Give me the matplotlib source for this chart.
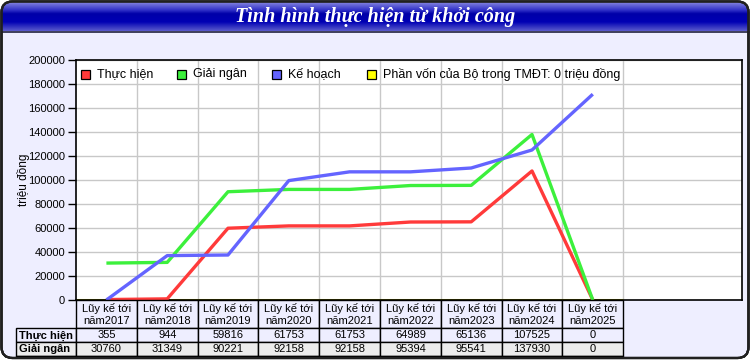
import matplotlib
matplotlib.use("Agg")
import matplotlib.pyplot as plt
import numpy as np
from matplotlib.patches import FancyBboxPatch, Rectangle
from matplotlib.colors import LinearSegmentedColormap

# ---------------- data ----------------
years = ["2017", "2018", "2019", "2020", "2021", "2022", "2023", "2024", "2025"]
categories = ["Lũy kế tới\nnăm" + y for y in years]
thuc_hien = [355, 944, 59816, 61753, 61753, 64989, 65136, 107525, 0]
giai_ngan = [30760, 31349, 90221, 92158, 92158, 95394, 95541, 137930, 0]
ke_hoach = [0, 37000, 37500, 99500, 106800, 106800, 110000, 125000, 171500]
phan_von = 0

series_names = ["Thực hiện", "Giải ngân", "Kế hoạch"]
legend_labels = ["Thực hiện", "Giải ngân", "Kế hoạch",
                 "Phần vốn của Bộ trong TMĐT: 0 triệu đồng"]
title = "Tình hình thực hiện từ khởi công"
ylabel = "triệu đồng"
yticks = list(range(0, 200001, 20000))

# ---------------- style ----------------
SANS = ["Liberation Sans", "DejaVu Sans"]
SERIF = ["Liberation Serif", "DejaVu Serif"]
plt.rcParams['font.family'] = SANS
c_red, c_green, c_blue, c_yellow = "#FF3A3A", "#3CF03C", "#6464FF", "#FFFF00"
line_colors = [c_red, c_green, c_blue]
lav = "#EEEEFF"

W, H = 750, 360
fig = plt.figure(figsize=(W / 100, H / 100), dpi=100)
fig.patch.set_facecolor("white")

# background axes in pixel coordinates
bg = fig.add_axes([0, 0, 1, 1], zorder=0)
bg.set_xlim(0, W)
bg.set_ylim(H, 0)
bg.axis("off")

frame = FancyBboxPatch((1.5, 1.5), W - 3, 356.5,
                       boxstyle="round,pad=0,rounding_size=11",
                       fc=lav, ec="#202020", lw=1.6, zorder=1)
bg.add_patch(frame)

# glossy title bar
stops = [(0.0, "#A0A0EC"), (0.07, "#7878DC"), (0.3, "#3030C8"),
         (0.42, "#0000A8"), (0.7, "#0000B4"), (1.0, "#5A5ACC")]
cmap = LinearSegmentedColormap.from_list("tb", stops)
grad = np.linspace(0, 1, 64).reshape(-1, 1)
im = bg.imshow(grad, cmap=cmap, aspect="auto",
               extent=(1.5, W - 1.5, 31, 1.5), zorder=2, interpolation="bilinear")
im.set_clip_path(frame)
bg.set_xlim(0, W)
bg.set_ylim(H, 0)
bg.plot([1.5, W - 1.5], [31.5, 31.5], color="#202040", lw=1.2, zorder=3)
frame_edge = FancyBboxPatch((1.5, 1.5), W - 3, 356.5,
                            boxstyle="round,pad=0,rounding_size=11",
                            fc="none", ec="#202020", lw=1.6, zorder=4)
bg.add_patch(frame_edge)
bg.text(W / 2, 17, title, color="white", fontsize=14.5, fontweight="bold",
        fontstyle="italic", family=SERIF, ha="center", va="center", zorder=5)

# ---------------- plot ----------------
L, R, T, B = 76, 742, 60, 300
ax = fig.add_axes([L / W, (H - B) / H, (R - L) / W, (B - T) / H], zorder=2)
ax.set_facecolor("white")
n = len(categories)
colw = 60.8
x = np.arange(n)
ax.set_xlim(-0.5, -0.5 + (R - L) / colw)
ax.set_ylim(0, 200000)
ax.set_yticks(yticks)
ax.set_yticklabels([str(v) for v in yticks], fontsize=8)
ax.tick_params(axis="y", direction="out", length=6, width=1, pad=2)
ax.set_xticks([])
for v in yticks[1:]:
    ax.axhline(v, color="#C8C8C8", lw=1, zorder=1)
for k in range(n):
    ax.axvline(k + 0.5, color="#C8C8C8", lw=1, zorder=1)
for s in ax.spines.values():
    s.set_color("black")
    s.set_linewidth(1.2)

ax.hlines(phan_von, -0.5, n - 0.5, color=c_yellow, lw=2.2, zorder=2)
for vals, col in zip([thuc_hien, giai_ngan, ke_hoach], line_colors):
    ax.plot(x, vals, color=col, lw=2.4, zorder=3, solid_capstyle="butt",
            clip_on=False)

# ---------------- overlay: legend, table, labels ----------------
ov = fig.add_axes([0, 0, 1, 1], zorder=5)
ov.set_xlim(0, W)
ov.set_ylim(H, 0)
ov.axis("off")
ov.patch.set_alpha(0)

leg_x = [85, 181, 276, 371]
leg_cols = [c_red, c_green, c_blue, c_yellow]
for lx, lc, lt in zip(leg_x, leg_cols, legend_labels):
    ov.add_patch(Rectangle((lx - 4.5, 69.5), 9, 9, fc=lc, ec="black", lw=0.9))
    ov.text(lx + 12, 74.5, lt, fontsize=9, ha="left", va="center")

ov.text(23, 180, ylabel, rotation=90, fontsize=8.5, ha="center", va="center")

# table
edges = [ax.transData.transform((k - 0.5, 0))[0] for k in range(n + 1)]
row_y = [300, 328, 342, 356, 370]
clipbox = Rectangle((0, 0), W, 357, transform=ov.transData)
lab_x0 = 16
rows = [(series_names[0], thuc_hien, lav),
        (series_names[1], giai_ngan, "#ECECEC"),
        (series_names[2], ke_hoach, lav)]

def cell(x0, x1, y0, y1, fc):
    r = Rectangle((x0, y0), x1 - x0, y1 - y0, fc=fc, ec="black", lw=1)
    ov.add_patch(r)
    r.set_clip_path(clipbox)

for k in range(n):
    cell(edges[k], edges[k + 1], row_y[0], row_y[1], lav)
    cx = (edges[k] + edges[k + 1]) / 2
    line1, line2 = categories[k].split("\n")
    ov.text(cx, 309, line1, fontsize=8, ha="center", va="center")
    ov.text(cx, 321, line2, fontsize=8, ha="center", va="center")

for j, (name, vals, fc) in enumerate(rows):
    y0, y1 = row_y[j + 1], row_y[j + 2]
    cell(lab_x0, edges[0], y0, y1, fc)
    for k in range(n):
        cell(edges[k], edges[k + 1], y0, y1, fc)
    if y1 > 357:
        continue  # this row lies below the visible frame
    ov.text(lab_x0 + 3, (y0 + y1) / 2 + 0.5, name, fontsize=8,
            fontweight="bold", ha="left", va="center")
    for k in range(n):
        ov.text((edges[k] + edges[k + 1]) / 2, (y0 + y1) / 2 + 0.5,
                str(vals[k]), fontsize=8, ha="center", va="center")

# frame edge drawn again on top
ov.add_patch(FancyBboxPatch((1.5, 1.5), W - 3, 356.5,
                            boxstyle="round,pad=0,rounding_size=11",
                            fc="none", ec="#202020", lw=1.6))

fig.savefig("out.png", dpi=100, facecolor=fig.get_facecolor())
